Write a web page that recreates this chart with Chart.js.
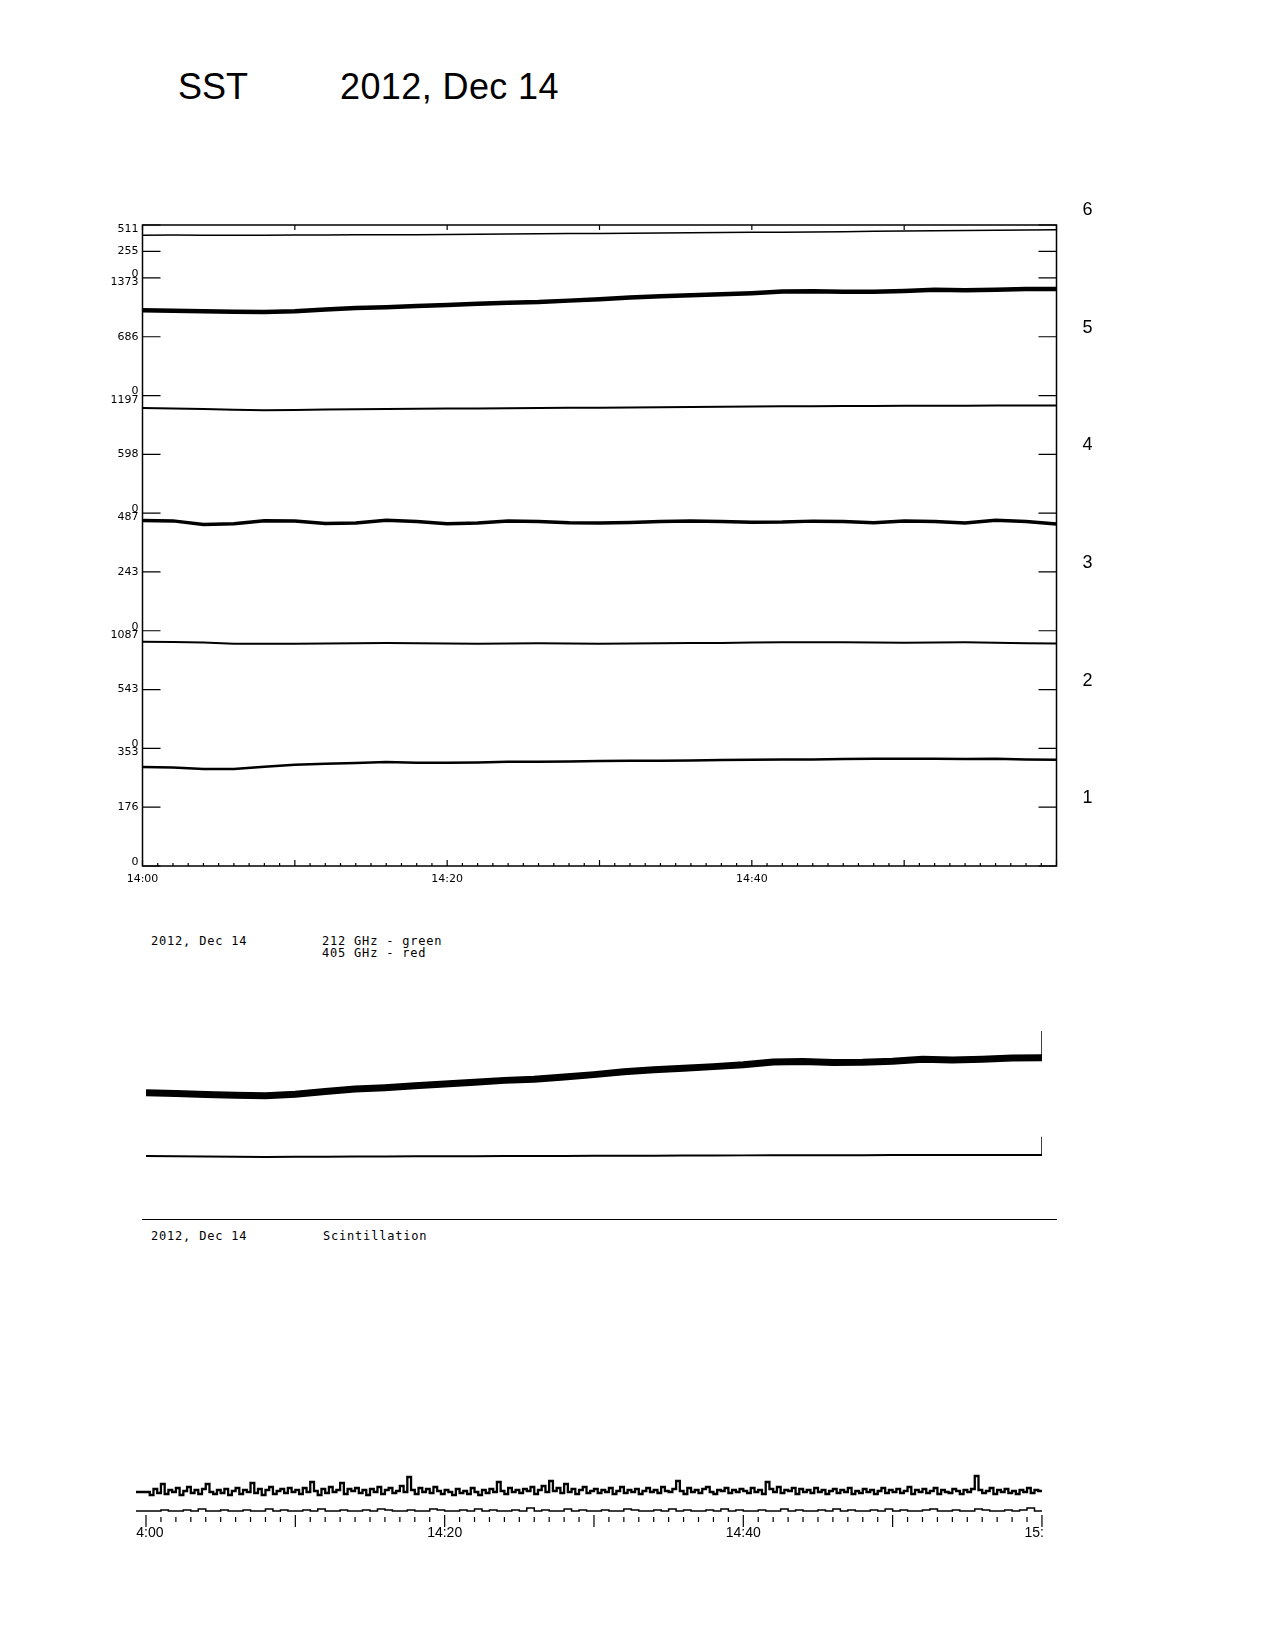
<!DOCTYPE html>
<html>
<head>
<meta charset="utf-8">
<title>SST 2012, Dec 14</title>
<script src="https://cdn.jsdelivr.net/npm/chart.js@4.4.1/dist/chart.umd.min.js"></script>
<style>
  html, body { margin: 0; padding: 0; background: #fff; }
  body { width: 1275px; height: 1650px; position: relative; overflow: hidden; color: #000;
         font-family: "Liberation Sans", Arial, sans-serif; }
  .abs { position: absolute; }
  .title { font-size: 36px; line-height: 36px; white-space: pre; }
  .mono { font-family: "DejaVu Sans Mono", monospace; font-size: 12px; line-height: 12px;
          letter-spacing: 0.8px; white-space: pre; }
  .rule { border-top: 1.5px solid #000; }
</style>
</head>
<body>
  <div class="abs title" style="left:178px; top:69px;">SST</div>
  <div class="abs title" style="left:340px; top:69px; letter-spacing:0.4px;">2012, Dec 14</div>

  <canvas id="channels" class="abs" width="1060" height="700" style="left:80px; top:200px;"></canvas>

  <div class="abs mono" style="left:151px; top:935px;">2012, Dec 14</div>
  <div class="abs mono" style="left:322px; top:935px;">212 GHz - green</div>
  <div class="abs mono" style="left:322px; top:947px;">405 GHz - red</div>

  <canvas id="flux" class="abs" width="916" height="190" style="left:136px; top:990px;"></canvas>

  <div class="abs rule" style="left:142px; top:1219px; width:915px;"></div>
  <div class="abs mono" style="left:151px; top:1230px;">2012, Dec 14</div>
  <div class="abs mono" style="left:323px; top:1230px;">Scintillation</div>

  <div class="abs" style="left:136px; top:1440px; width:907px; height:110px; overflow:hidden;">
    <canvas id="scint" class="abs" width="1027" height="110" style="left:-60px; top:0;"></canvas>
  </div>

<script>
// minutes after 14:00 UT
const minutes = [0, 2, 4, 6, 8, 10, 12, 14, 16, 18, 20, 22, 24, 26, 28, 30,
                 32, 34, 36, 38, 40, 42, 44, 46, 48, 50, 52, 54, 56, 58, 60];

// receiver channels 1..6 (raw counts)
const ch1 = [297, 296, 291, 291, 298, 304, 307, 309, 312, 310, 310, 311, 313, 313, 314, 315,
             316, 316, 317, 318, 319, 320, 320, 321, 322, 322, 322, 321, 322, 320, 319];
const ch2 = [985, 984, 978, 968, 966, 968, 970, 972, 974, 972, 970, 968, 970, 972, 970, 968,
             970, 972, 974, 975, 978, 980, 982, 980, 978, 976, 978, 980, 976, 972, 970];
const ch3 = [457, 455, 440, 443, 456, 455, 444, 446, 458, 452, 443, 446, 455, 452, 447, 446,
             448, 452, 455, 452, 449, 450, 454, 452, 447, 455, 452, 446, 458, 452, 442];
const ch4 = [1070, 1066, 1060, 1052, 1048, 1050, 1054, 1058, 1060, 1062, 1064, 1066, 1068, 1070, 1072, 1074,
             1076, 1078, 1080, 1082, 1085, 1087, 1088, 1090, 1091, 1092, 1093, 1094, 1095, 1096, 1096];
const ch5 = [996, 990, 983, 978, 975, 985, 1005, 1022, 1032, 1045, 1058, 1071, 1084, 1092, 1108, 1125,
             1145, 1160, 1170, 1182, 1195, 1215, 1218, 1212, 1213, 1220, 1234, 1229, 1235, 1243, 1245];
const ch6 = [413, 414, 413, 412, 413, 414, 415, 416, 417, 418, 420, 422, 424, 426, 428, 430,
             432, 434, 436, 438, 440, 442, 444, 447, 450, 452, 455, 457, 460, 463, 465];

// per-band axis: full scale and mid tick label
const bandMax = [353, 1087, 487, 1197, 1373, 511];
const bandMid = [176, 543, 243, 598, 686, 255];
const bandSpan = [1, 1, 1, 1, 1, 0.45];   // band 6 is drawn shorter
const channelNames = ['1', '2', '3', '4', '5', '6'];
const topTimeLabels = ['14:00', '14:20', '14:40'];

// middle panel: end-of-scan marks (same units as the 212 / 405 traces)
const endMark212 = [1245, 1436];
const endMark405 = [1096, 1533];

// scintillation, upper trace every 15 s from 14:00 to 15:00
const scintUpper = [
  24, 21, 27, 23, 32, 22, 26, 24, 28, 21, 25, 29, 23, 26, 22, 27, 32, 24, 22, 26,
  23, 27, 21, 25, 28, 22, 26, 24, 33, 23, 27, 21, 26, 29, 22, 25, 27, 23, 28, 24,
  26, 22, 28, 24, 34, 25, 21, 27, 23, 29, 24, 26, 33, 22, 27, 25, 28, 23, 26, 21,
  27, 24, 29, 22, 26, 28, 23, 25, 30, 24, 39, 26, 22, 28, 24, 27, 23, 29, 25, 22,
  26, 24, 21, 27, 23, 25, 22, 28, 24, 21, 26, 23, 27, 24, 34, 25, 22, 28, 24, 26,
  23, 27, 25, 29, 22, 26, 30, 24, 35, 25, 28, 23, 32, 24, 27, 22, 26, 29, 23, 25,
  27, 23, 26, 24, 28, 22, 25, 29, 23, 26, 24, 27, 22, 25, 28, 24, 26, 23, 29, 25,
  24, 27, 35, 25, 22, 28, 24, 26, 23, 27, 29, 24, 22, 26, 25, 28, 23, 26, 24, 27,
  25, 23, 28, 24, 26, 22, 34, 27, 24, 29, 23, 26, 25, 28, 22, 27, 24, 26, 23, 28,
  24, 26, 22, 25, 27, 23, 26, 24, 28, 22, 25, 23, 27, 24, 26, 22, 25, 28, 23, 26,
  24, 27, 23, 25, 29, 22, 26, 24, 27, 23, 25, 28, 22, 26, 24, 23, 27, 25, 22, 26,
  24, 27, 40, 26, 23, 25, 28, 22, 26, 24, 27, 23, 25, 22, 26, 24, 28, 23, 26, 25,
  25];
// lower trace every 30 s
const scintLower = [
  5, 5, 6, 5, 5, 6, 5, 7, 5, 5,
  6, 5, 5, 6, 5, 5, 7, 5, 6, 5,
  5, 6, 5, 7, 5, 5, 6, 5, 5, 6,
  5, 7, 6, 5, 5, 6, 5, 5, 7, 6,
  5, 5, 6, 5, 7, 5, 6, 5, 5, 6,
  5, 8, 5, 6, 5, 5, 7, 5, 6, 5,
  5, 6, 5, 5, 7, 6, 5, 5, 6, 5,
  7, 5, 6, 5, 5, 6, 5, 7, 5, 6,
  5, 5, 6, 5, 5, 7, 5, 6, 5, 5,
  6, 5, 7, 5, 6, 5, 5, 6, 5, 7,
  5, 6, 5, 5, 6, 7, 5, 5, 6, 5,
  5, 7, 6, 5, 5, 6, 5, 6, 8, 5,
  5];
const upperTimes = scintUpper.map((_, i) => i * 0.25);
const lowerTimes = scintLower.map((_, i) => i * 0.5);
const bottomTimeLabels = ['14:00', '14:20', '14:40', '15:00'];

Chart.defaults.font.family = '"DejaVu Sans", sans-serif';
Chart.defaults.color = '#000';

// ---------- stacked channel plot ----------
const bandBase = [];
let acc = 0;
bandSpan.forEach(s => { bandBase.push(acc); acc += s; });
const yTop = acc;

function toBand(i, v) {
  return bandBase[i] + v / bandMax[i] * bandSpan[i];
}

// y ticks: 0 / mid / top of every band, band tops share the next band's 0
const yTicks = [];
const yLabels = [];
bandMax.forEach((max, i) => {
  yTicks.push(bandBase[i]);
  yLabels.push(i === 0 ? ['0', ''] : ['0', String(bandMax[i - 1])]);
  yTicks.push(bandBase[i] + bandSpan[i] / 2);
  yLabels.push(String(bandMid[i]));
});
yTicks.push(yTop);
yLabels.push(['', String(bandMax[bandMax.length - 1])]);

const channels = [ch1, ch2, ch3, ch4, ch5, ch6];
const widths = [2.5, 2, 3.5, 2, 4.5, 1.5];

const frameTicks = {
  id: 'frameTicks',
  afterDatasetsDraw(chart) {
    const { ctx, chartArea: a, scales: { x, y } } = chart;
    ctx.save();
    ctx.strokeStyle = '#000';
    ctx.lineWidth = 1.5;
    ctx.strokeRect(a.left, a.top, a.right - a.left, a.bottom - a.top);
    ctx.lineWidth = 1.2;
    ctx.beginPath();
    yTicks.forEach(v => {
      const py = y.getPixelForValue(v);
      ctx.moveTo(a.left, py); ctx.lineTo(a.left + 18, py);
      ctx.moveTo(a.right, py); ctx.lineTo(a.right - 18, py);
    });
    for (let m = 0; m <= 60; m++) {
      const px = x.getPixelForValue(m);
      const major = m % 10 === 0;
      ctx.moveTo(px, a.bottom); ctx.lineTo(px, a.bottom - (major ? 6 : 3));
      if (major) { ctx.moveTo(px, a.top); ctx.lineTo(px, a.top + 5); }
    }
    ctx.stroke();
    // channel numbers on the right
    ctx.fillStyle = '#000';
    ctx.font = '18px "Liberation Sans", Arial, sans-serif';
    ctx.textAlign = 'center';
    ctx.textBaseline = 'middle';
    channelNames.forEach((name, i) => {
      ctx.fillText(name, a.right + 31, y.getPixelForValue(i + 0.5) - 9);
    });
    ctx.restore();
  }
};

new Chart(document.getElementById('channels'), {
  type: 'line',
  data: {
    datasets: channels.map((vals, i) => ({
      label: 'ch' + (i + 1),
      data: vals.map((v, k) => ({ x: minutes[k], y: toBand(i, v) })),
      borderColor: '#000',
      borderWidth: widths[i],
      pointRadius: 0,
      tension: 0
    }))
  },
  options: {
    responsive: false,
    animation: false,
    events: [],
    layout: { padding: { left: 12.5, right: 83.5, top: 25, bottom: 4 } },
    plugins: { legend: { display: false }, tooltip: { enabled: false } },
    scales: {
      x: {
        type: 'linear', min: 0, max: 60,
        grid: { display: false, drawTicks: false },
        border: { display: false },
        ticks: {
          stepSize: 20, padding: 7, maxRotation: 0, autoSkip: false,
          font: { size: 11 },
          callback: (v, i) => topTimeLabels[i] ?? ''
        },
        afterFit: s => { s.height = 30; }
      },
      y: {
        type: 'linear', min: 0, max: yTop,
        grid: { display: false, drawTicks: false },
        border: { display: false },
        afterBuildTicks: s => { s.ticks = yTicks.map(v => ({ value: v })); },
        ticks: {
          padding: 4, autoSkip: false,
          font: { size: 11, lineHeight: 0.75 },
          callback: (v, i) => yLabels[i]
        },
        afterFit: s => { s.width = 50; }
      }
    }
  },
  plugins: [frameTicks]
});

// ---------- 212 / 405 GHz panel ----------
new Chart(document.getElementById('flux'), {
  type: 'line',
  data: {
    datasets: [
      { label: '212 GHz', yAxisID: 'y212', borderWidth: 7,
        data: ch5.map((v, k) => ({ x: minutes[k], y: v })) },
      { label: '405 GHz', yAxisID: 'y405', borderWidth: 2,
        data: ch4.map((v, k) => ({ x: minutes[k], y: v })) },
      { label: 'end 212', yAxisID: 'y212', borderWidth: 1.5,
        data: endMark212.map(v => ({ x: 60, y: v })) },
      { label: 'end 405', yAxisID: 'y405', borderWidth: 1.5,
        data: endMark405.map(v => ({ x: 60, y: v })) }
    ].map(d => Object.assign(d, { borderColor: '#000', pointRadius: 0, tension: 0 }))
  },
  options: {
    responsive: false,
    animation: false,
    events: [],
    layout: { padding: 10 },
    plugins: { legend: { display: false }, tooltip: { enabled: false } },
    scales: {
      x: { type: 'linear', min: 0, max: 60, display: false },
      y212: { type: 'linear', min: 445, max: 1657, display: false },
      y405: { type: 'linear', min: 734, max: 4814, display: false }
    }
  }
});

// ---------- scintillation ----------
const scintMin = -0.67;

const scintTicks = {
  id: 'scintTicks',
  afterDraw(chart) {
    const { ctx, chartArea: a, scales: { x } } = chart;
    ctx.save();
    ctx.strokeStyle = '#000';
    ctx.lineWidth = 1.2;
    ctx.beginPath();
    for (let m = 0; m <= 60; m++) {
      const px = x.getPixelForValue(m);
      if (m % 10 === 0) {
        ctx.moveTo(px, a.bottom - 1); ctx.lineTo(px, a.bottom + 11);
      } else {
        ctx.moveTo(px, a.bottom + 1); ctx.lineTo(px, a.bottom + 6);
      }
    }
    ctx.stroke();
    ctx.restore();
  }
};

new Chart(document.getElementById('scint'), {
  type: 'line',
  data: {
    datasets: [
      { label: 'upper', borderWidth: 2.3,
        data: [{ x: scintMin, y: scintUpper[0] }].concat(scintUpper.map((v, k) => ({ x: upperTimes[k], y: v }))) },
      { label: 'lower', borderWidth: 1.5,
        data: [{ x: scintMin, y: scintLower[0] }].concat(scintLower.map((v, k) => ({ x: lowerTimes[k], y: v }))) }
    ].map(d => Object.assign(d, { borderColor: '#000', pointRadius: 0, stepped: true }))
  },
  options: {
    responsive: false,
    animation: false,
    events: [],
    layout: { padding: { left: 60, right: 60, top: 26, bottom: 0 } },
    plugins: { legend: { display: false }, tooltip: { enabled: false } },
    scales: {
      x: {
        type: 'linear', min: scintMin, max: 60.07,
        grid: { display: false, drawTicks: false },
        border: { display: false },
        afterBuildTicks: s => { s.ticks = [0, 20, 40, 60].map(v => ({ value: v })); },
        ticks: {
          padding: 9, maxRotation: 0, autoSkip: false,
          font: { family: '"Liberation Sans", Arial, sans-serif', size: 14 },
          callback: (v, i) => bottomTimeLabels[i]
        },
        afterFit: s => { s.height = 34; }
      },
      y: { type: 'linear', min: 0, max: 50, display: false }
    }
  },
  plugins: [scintTicks]
});
</script>
</body>
</html>
